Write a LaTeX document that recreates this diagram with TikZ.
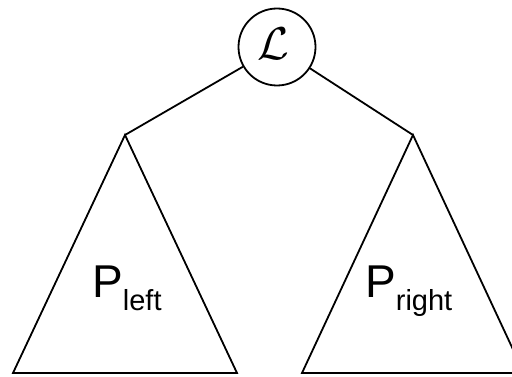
\documentclass[tikz,border=0pt]{standalone}
\usepackage{fontspec}
\usepackage{graphicx}
\setmainfont{Liberation Sans}
\begin{document}
\begin{tikzpicture}[x=1pt,y=-1pt,
  edge/.style={line width=1.8pt, line join=miter},
  rootnode/.style={circle, draw, line width=1.8pt, minimum size=77pt, inner sep=0pt},
  ptext/.style={anchor=base west, inner sep=0pt, font=\fontsize{46}{46}\selectfont}]
\useasboundingbox (0,0) rectangle (512,377);
\clip (0,0) rectangle (512,377);
\node[rootnode] (L) at (277,47) {};
\node[inner sep=0pt] (Ltext) at (273,44) {\scalebox{4.6}{$\mathcal{L}$}};
\coordinate (la) at (125,135);
\coordinate (ll) at (13,373);
\coordinate (lr) at (237,373);
\coordinate (ra) at (413,135);
\coordinate (rl) at (302,373);
\coordinate (rr) at (524,373);
\draw[edge] (L) -- (la);
\draw[edge] (L) -- (ra);
\draw[edge] (la) -- (ll) -- (lr) -- cycle;
\draw[edge] (ra) -- (rl) -- (rr) -- cycle;
\node[ptext] (pl) at (92,298) {P\raisebox{-13pt}{\fontsize{29}{29}\selectfont left}};
\node[ptext] (pr) at (365,298) {P\raisebox{-13pt}{\fontsize{29}{29}\selectfont right}};
\end{tikzpicture}
\end{document}
